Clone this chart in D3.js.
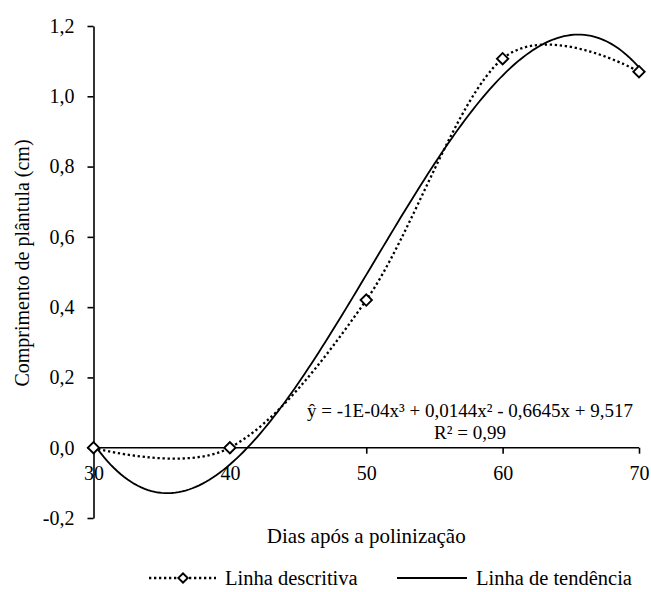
<!DOCTYPE html>
<html>
<head>
<meta charset="utf-8">
<script src="https://cdn.jsdelivr.net/npm/d3@7"></script>
<style>
  html, body { margin: 0; padding: 0; background: #fff; }
  svg { display: block; }
</style>
</head>
<body>
<svg id="chart" width="651" height="592"></svg>
<script>
// Seedling length by days after pollination
const days = [30, 40, 50, 60, 70];
const lengthCm = [0, 0, 0.42, 1.107, 1.07];

const xTicks = [30, 40, 50, 60, 70];
const yTicks = [-0.2, 0, 0.2, 0.4, 0.6, 0.8, 1.0, 1.2];

const xTitle = "Dias após a polinização";
const yTitle = "Comprimento de plântula (cm)";
const equationLines = ["ŷ = -1E-04x³ + 0,0144x² - 0,6645x + 9,517", "R² = 0,99"];
const legendLabels = ["Linha descritiva", "Linha de tendência"];

const FONT = '"Liberation Serif", "Times New Roman", serif';

const svg = d3.select("#chart");

const x = d3.scaleLinear().domain([30, 70]).range([93.5, 639]);
const y = d3.scaleLinear().domain([-0.2, 1.2]).range([518, 26]);

const fmt = v => d3.format(".1f")(v).replace(".", ",").replace("−", "-");

// Least-squares polynomial fit (degree 3) of the observed points
function polyfit(xs, ys, deg) {
  const xm = d3.mean(xs);
  const n = deg + 1;
  const A = Array.from({length: n}, () => new Array(n + 1).fill(0));
  xs.forEach((xv, k) => {
    const t = xv - xm;
    for (let i = 0; i < n; i++) {
      for (let j = 0; j < n; j++) A[i][j] += Math.pow(t, i + j);
      A[i][n] += Math.pow(t, i) * ys[k];
    }
  });
  for (let c = 0; c < n; c++) {
    let p = c;
    for (let r = c + 1; r < n; r++) if (Math.abs(A[r][c]) > Math.abs(A[p][c])) p = r;
    [A[c], A[p]] = [A[p], A[c]];
    for (let r = 0; r < n; r++) {
      if (r === c) continue;
      const f = A[r][c] / A[c][c];
      for (let k = c; k <= n; k++) A[r][k] -= f * A[c][k];
    }
  }
  const coef = A.map((row, i) => row[n] / row[i]);
  return xv => coef.reduce((s, cf, i) => s + cf * Math.pow(xv - xm, i), 0);
}
const trend = polyfit(days, lengthCm, 3);
const trendPts = d3.range(30, 70.001, 0.25).map(d => [d, trend(d)]);

const styleText = sel => sel.style("font-family", FONT).style("fill", "#000");

// Axes
const yAxis = d3.axisLeft(y).tickValues(yTicks).tickFormat(fmt)
  .tickSize(6).tickSizeOuter(0).tickPadding(13);
const gy = svg.append("g").attr("transform", `translate(${x(30)},0)`).call(yAxis);

const xAxis = d3.axisBottom(x).tickValues(xTicks).tickFormat(d3.format("d"))
  .tickSize(6).tickSizeOuter(0).tickPadding(12);
const gx = svg.append("g").attr("transform", `translate(0,${y(0)})`).call(xAxis);

[gx, gy].forEach(g => {
  g.select(".domain").attr("stroke", "#000").attr("stroke-width", 1.6);
  g.selectAll(".tick line").attr("stroke", "#000").attr("stroke-width", 1.6);
  g.selectAll("text").call(styleText).style("font-size", "20px");
});
gx.select(".domain").attr("d", `M${x(30)},0H${x(70)}`);

// Trend line (cubic regression)
svg.append("path")
  .datum(trendPts)
  .attr("fill", "none")
  .attr("stroke", "#000")
  .attr("stroke-width", 1.8)
  .attr("d", d3.line().x(d => x(d[0])).y(d => y(d[1])));

// Descriptive smoothed line
const pts = days.map((d, i) => [d, lengthCm[i]]);
svg.append("path")
  .datum(pts)
  .attr("fill", "none")
  .attr("stroke", "#000")
  .attr("stroke-width", 2.3)
  .attr("stroke-dasharray", "2.3,2.7")
  .attr("d", d3.line().x(d => x(d[0])).y(d => y(d[1])).curve(d3.curveCardinal.tension(0)));

// Diamond markers
const diamond = d3.symbol().type(d3.symbolSquare).size(64);
svg.append("g").selectAll("path")
  .data(pts)
  .join("path")
  .attr("d", diamond)
  .attr("transform", d => `translate(${x(d[0])},${y(d[1])}) rotate(45)`)
  .attr("fill", "#fff")
  .attr("stroke", "#000")
  .attr("stroke-width", 1.9);

// Regression equation
const eq = svg.append("text")
  .attr("text-anchor", "middle")
  .call(styleText)
  .style("font-size", "19px");
equationLines.forEach((line, i) => {
  eq.append("tspan").attr("x", 470).attr("y", 417 + i * 22).text(line);
});

// Axis titles
svg.append("text")
  .attr("x", (x(30) + x(70)) / 2)
  .attr("y", 543)
  .attr("text-anchor", "middle")
  .call(styleText)
  .style("font-size", "21px")
  .text(xTitle);

svg.append("text")
  .attr("transform", `translate(29,263) rotate(-90)`)
  .attr("text-anchor", "middle")
  .call(styleText)
  .style("font-size", "20px")
  .text(yTitle);

// Legend
const ly = 578;
const lg = svg.append("g");
lg.append("line")
  .attr("x1", 149).attr("x2", 216).attr("y1", ly).attr("y2", ly)
  .attr("stroke", "#000").attr("stroke-width", 2.3).attr("stroke-dasharray", "2.3,2.7");
lg.append("path")
  .attr("d", d3.symbol().type(d3.symbolSquare).size(44))
  .attr("transform", `translate(183,${ly}) rotate(45)`)
  .attr("fill", "#fff").attr("stroke", "#000").attr("stroke-width", 1.9);
lg.append("text").attr("x", 225).attr("y", ly).attr("dy", "0.32em")
  .call(styleText).style("font-size", "20.5px").text(legendLabels[0]);
lg.append("line")
  .attr("x1", 397).attr("x2", 467).attr("y1", ly).attr("y2", ly)
  .attr("stroke", "#000").attr("stroke-width", 1.8);
lg.append("text").attr("x", 476).attr("y", ly).attr("dy", "0.32em")
  .call(styleText).style("font-size", "20.5px").text(legendLabels[1]);
</script>
</body>
</html>
